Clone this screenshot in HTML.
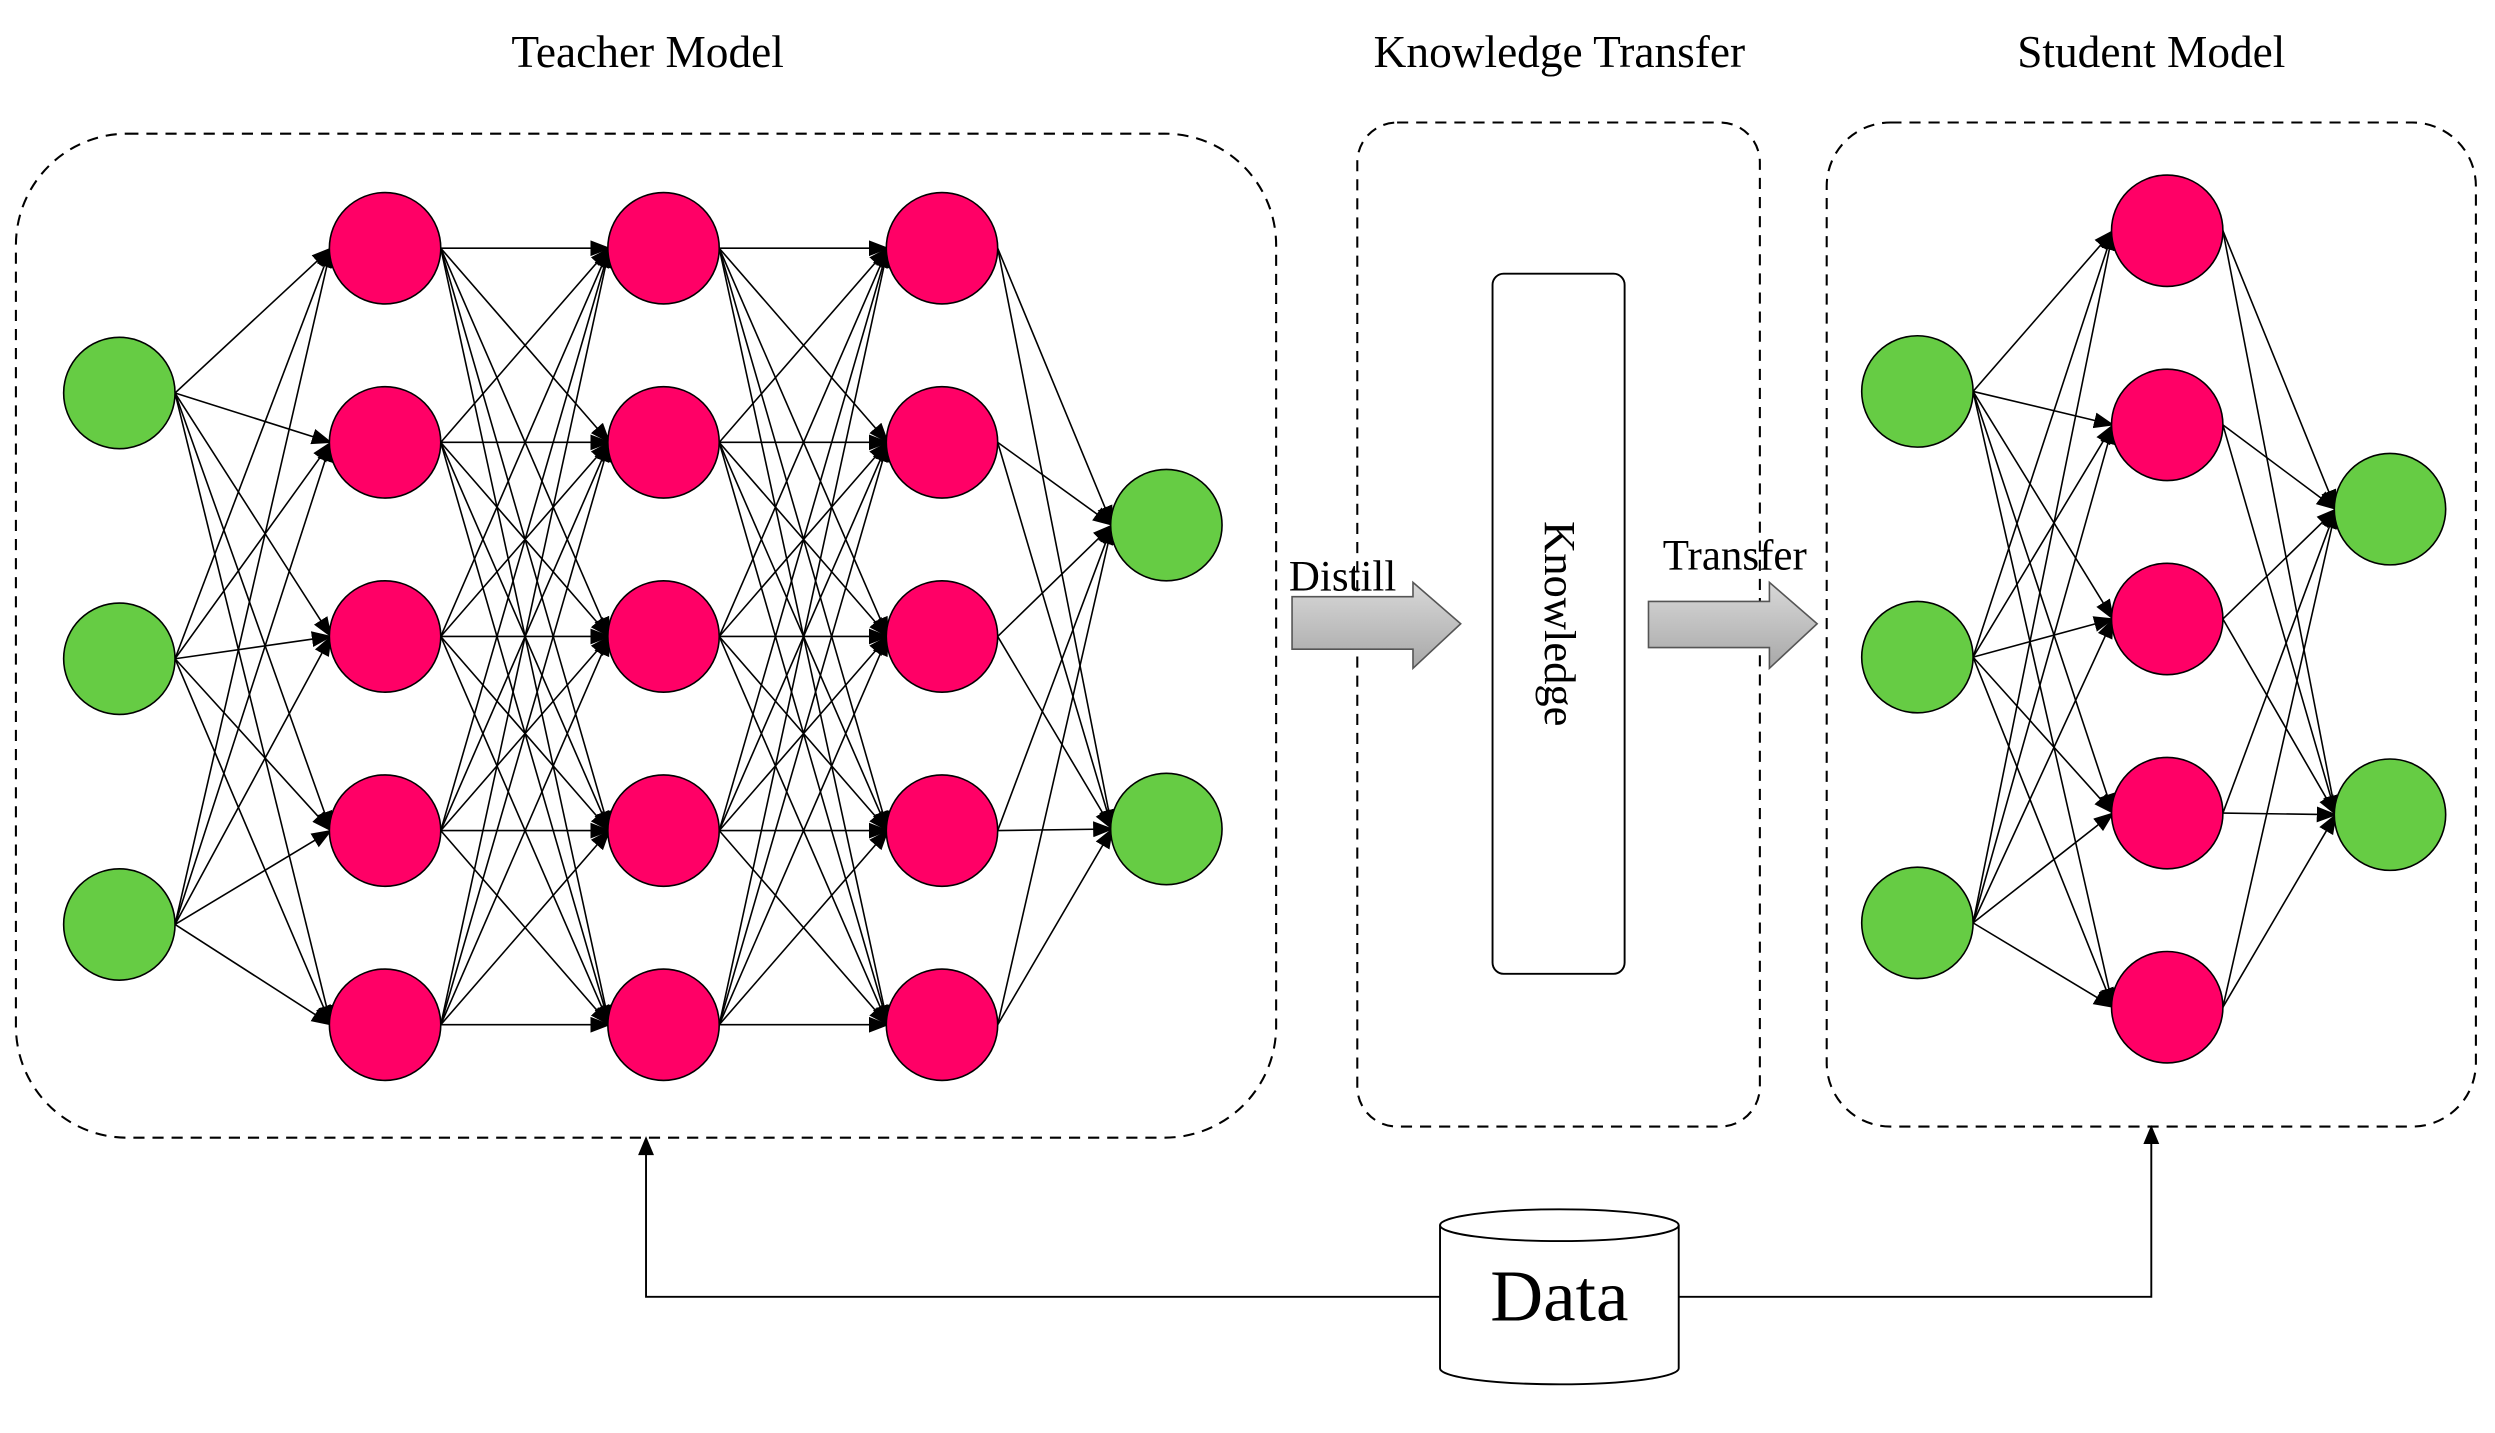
<!DOCTYPE html>
<html><head><meta charset="utf-8"><style>
html,body{margin:0;padding:0;background:#fff;width:2495px;height:1433px;overflow:hidden}
svg{display:block}
text{font-family:"Liberation Serif",serif;fill:#000}
</style></head><body>
<svg id="s" width="2495" height="1433" viewBox="0 0 1568 900.6" preserveAspectRatio="none" xmlns="http://www.w3.org/2000/svg">
<defs>
<marker id="a" markerWidth="13" markerHeight="12" refX="12" refY="6" orient="auto" markerUnits="userSpaceOnUse"><path d="M0,1 L13,6 L0,11 z" fill="#000"/></marker>
<linearGradient id="g" x1="0" y1="0" x2="0" y2="1"><stop offset="0" stop-color="#d8d8d8"/><stop offset="1" stop-color="#a8a8a8"/></linearGradient>
</defs>
<text x="407" y="42" font-size="28.5" text-anchor="middle">Teacher Model</text>
<text x="980" y="42" font-size="28.5" text-anchor="middle">Knowledge Transfer</text>
<text x="1352" y="42" font-size="28.5" text-anchor="middle">Student Model</text>
<g fill="none" stroke="#000" stroke-width="1.3" stroke-dasharray="7,5">
<rect x="10" y="84" width="792" height="631" rx="70"/>
<rect x="853" y="77" width="253" height="631" rx="25"/>
<rect x="1148" y="77" width="408" height="631" rx="40"/>
</g>
<g id="lines" stroke="#000" stroke-width="1" fill="none"></g>
<g id="nodes" stroke="#000" stroke-width="1"></g>
<rect x="938" y="172" width="83" height="440" rx="7" fill="#fff" stroke="#000" stroke-width="1.2"/>
<text x="0" y="0" font-size="28" text-anchor="middle" transform="translate(971,392) rotate(90)">Knowledge</text>
<path d="M812,375 L888,375 L888,366 L918,392 L888,420 L888,408 L812,408 Z" fill="url(#g)" stroke="#555" stroke-width="1"/>
<path d="M1036,378 L1112,378 L1112,366 L1142,392 L1112,420 L1112,407 L1036,407 Z" fill="url(#g)" stroke="#555" stroke-width="1"/>
<text x="810" y="371" font-size="27">Distill</text>
<text x="1045" y="358" font-size="27">Transfer</text>
<g fill="none" stroke="#000" stroke-width="1.2">
<path d="M905,815 L406,815 L406,722" />
<path d="M1055,815 L1352,815 L1352,715" />
</g>
<path d="M401,726 L406,714 L411,726 Z" fill="#000"/>
<path d="M1347,719 L1352,707 L1357,719 Z" fill="#000"/>
<path d="M905,770 L905,860 A75,10 0 0 0 1055,860 L1055,770" fill="#fff" stroke="#000" stroke-width="1.2"/>
<ellipse cx="980" cy="770" rx="75" ry="10" fill="#fff" stroke="#000" stroke-width="1.2"/>
<text x="980" y="830" font-size="46" text-anchor="middle">Data</text>
</svg>
<script>
var NS="http://www.w3.org/2000/svg",R=35;
var G="#66cc44",P="#ff0066";
var H=[156,278,400,522,644];
var T=[[75,[247,414,581],G],[242,H,P],[417,H,P],[592,H,P],[733,[330,521],G]];
var S=[[1205,[246,413,580],G],[1362,[145,267,389,511,633],P],[1502,[320,512],G]];
var L=document.getElementById("lines"),N=document.getElementById("nodes");
function net(layers){
 for(var i=0;i<layers.length-1;i++){
  var a=layers[i],b=layers[i+1];
  a[1].forEach(function(y1){b[1].forEach(function(y2){
   var l=document.createElementNS(NS,"line");
   l.setAttribute("x1",a[0]+R);l.setAttribute("y1",y1);
   l.setAttribute("x2",b[0]-R+1);l.setAttribute("y2",y2);
   l.setAttribute("marker-end","url(#a)");L.appendChild(l);
  });});
 }
 layers.forEach(function(a){a[1].forEach(function(y){
  var c=document.createElementNS(NS,"circle");
  c.setAttribute("cx",a[0]);c.setAttribute("cy",y);c.setAttribute("r",R);c.setAttribute("fill",a[2]);N.appendChild(c);
 });});
}
net(T);net(S);
</script>
</body></html>
